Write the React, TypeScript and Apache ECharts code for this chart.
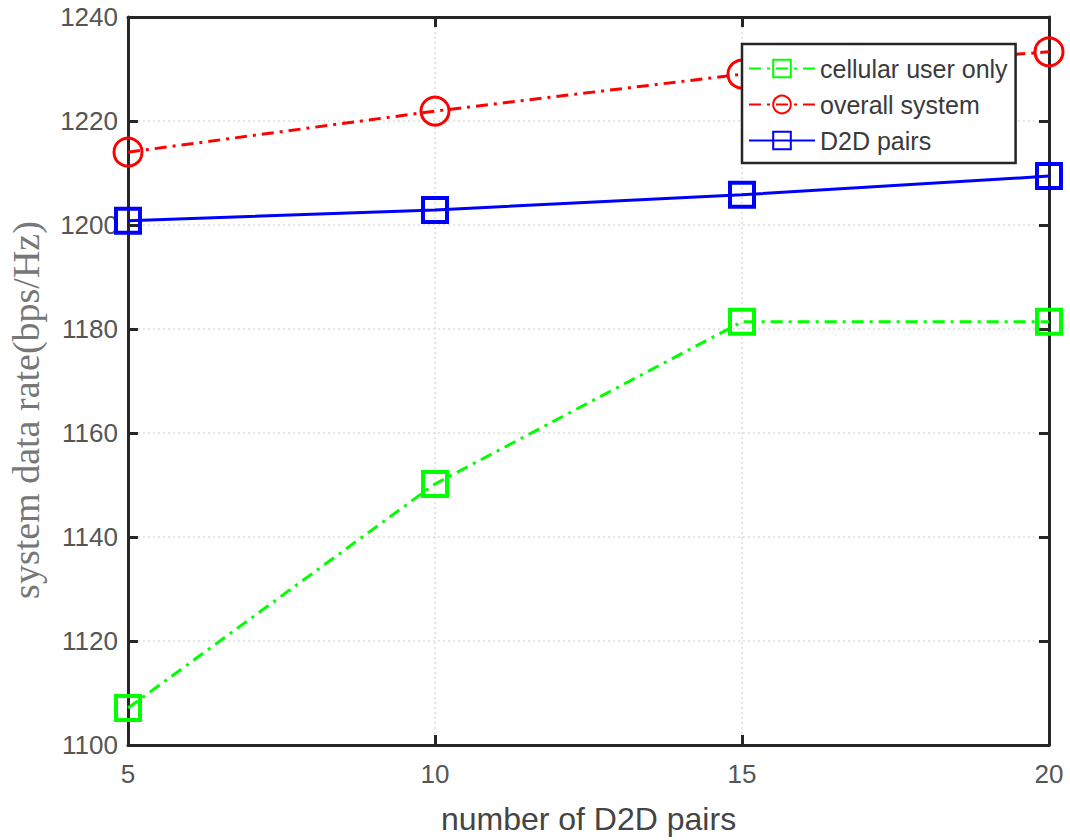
import React, { useEffect, useRef } from "react";
import * as echarts from "echarts";

const xValues = [5, 10, 15, 20];
const cellularOnly = [1107.1, 1150.2, 1181.4, 1181.4];
const overallSystem = [1214.0, 1221.9, 1229.0, 1233.3];
const d2dPairs = [1200.8, 1202.9, 1205.8, 1209.4];
const seriesNames = ["cellular user only", "overall system", "D2D pairs"];
const xAxisTitle = "number of D2D pairs";
const yAxisTitle = "system data rate(bps/Hz)";

const axisColor = "#262626";
const labelColor = "#555555";

export default function App() {
  const ref = useRef<HTMLDivElement>(null);
  useEffect(() => {
    document.body.style.margin = "0";
    const chart = echarts.init(ref.current!, undefined, { renderer: "svg" });
    const mk = (arr: number[]) => xValues.map((x, i) => [x, arr[i]]);
    const splitLine = { show: true, lineStyle: { color: "#dddddd", type: [2, 3] as any, width: 1.5 } };
    chart.setOption({
      animation: false,
      backgroundColor: "#ffffff",
      grid: { left: 128, right: 21, top: 17, bottom: 95, containLabel: false, outerBoundsMode: "none" },
      graphic: [
        {
          type: "text",
          x: 26,
          y: 410,
          rotation: Math.PI / 2,
          style: {
            text: yAxisTitle,
            fontFamily: "Liberation Serif, Times New Roman, serif",
            fontSize: 38,
            fill: "#777777",
            align: "center",
            verticalAlign: "middle",
          },
        },
      ],
      legend: {
        show: true,
        left: 742,
        top: 44,
        orient: "vertical",
        itemWidth: 66,
        itemHeight: 22,
        itemGap: 11,
        padding: [12, 8, 10, 6],
        borderColor: axisColor,
        borderWidth: 2.5,
        backgroundColor: "#ffffff",
        textStyle: { fontFamily: "Liberation Sans, Arial", fontSize: 25, lineHeight: 24, color: "#3a3a3a" },
        data: seriesNames,
      },
      xAxis: [
        {
          type: "value",
          min: 5,
          max: 20,
          interval: 5,
          name: xAxisTitle,
          nameLocation: "middle",
          nameGap: 58,
          nameTextStyle: { fontFamily: "Liberation Sans, Arial", fontSize: 32, color: "#444" },
          axisLine: { show: true, onZero: false, lineStyle: { color: axisColor, width: 3 } },
          axisTick: { show: true, inside: true, length: 10, lineStyle: { color: axisColor, width: 3 } },
          axisLabel: { fontFamily: "Liberation Sans, Arial", fontSize: 26, color: labelColor, margin: 16 },
          splitLine,
        },
        {
          type: "value",
          position: "top",
          min: 5,
          max: 20,
          interval: 5,
          axisLine: { show: true, onZero: false, lineStyle: { color: axisColor, width: 3 } },
          axisTick: { show: true, inside: true, length: 10, lineStyle: { color: axisColor, width: 3 } },
          axisLabel: { show: false },
          splitLine: { show: false },
        },
      ],
      yAxis: [
        {
          type: "value",
          min: 1100,
          max: 1240,
          interval: 20,
          axisLine: { show: true, onZero: false, lineStyle: { color: axisColor, width: 3 } },
          axisTick: { show: true, inside: true, length: 10, lineStyle: { color: axisColor, width: 3 } },
          axisLabel: {
            fontFamily: "Liberation Sans, Arial",
            fontSize: 26,
            color: labelColor,
            margin: 10,
            formatter: (v: number) => String(v),
          },
          splitLine,
        },
        {
          type: "value",
          position: "right",
          min: 1100,
          max: 1240,
          interval: 20,
          axisLine: { show: true, onZero: false, lineStyle: { color: axisColor, width: 3 } },
          axisTick: { show: true, inside: true, length: 10, lineStyle: { color: axisColor, width: 3 } },
          axisLabel: { show: false },
          splitLine: { show: false },
        },
      ],
      series: [
        {
          name: seriesNames[0],
          type: "line",
          data: mk(cellularOnly),
          symbol: "rect",
          symbolSize: 24,
          lineStyle: { color: "#00ff00", width: 3, type: [12, 6, 3, 6] },
          itemStyle: { color: "rgba(255,255,255,0)", borderColor: "#00ff00", borderWidth: 4 },
          z: 3,
        },
        {
          name: seriesNames[1],
          type: "line",
          data: mk(overallSystem),
          symbol: "circle",
          symbolSize: 28,
          lineStyle: { color: "#ff0000", width: 3, type: [12, 6, 3, 6] },
          itemStyle: { color: "rgba(255,255,255,0)", borderColor: "#ff0000", borderWidth: 3 },
          z: 3,
        },
        {
          name: seriesNames[2],
          type: "line",
          data: mk(d2dPairs),
          symbol: "rect",
          symbolSize: 24,
          lineStyle: { color: "#0000ff", width: 3 },
          itemStyle: { color: "rgba(255,255,255,0)", borderColor: "#0000ff", borderWidth: 4 },
          z: 3,
        },
      ],
    });
    return () => chart.dispose();
  }, []);
  return <div ref={ref} style={{ width: 1070, height: 840 }} />;
}
